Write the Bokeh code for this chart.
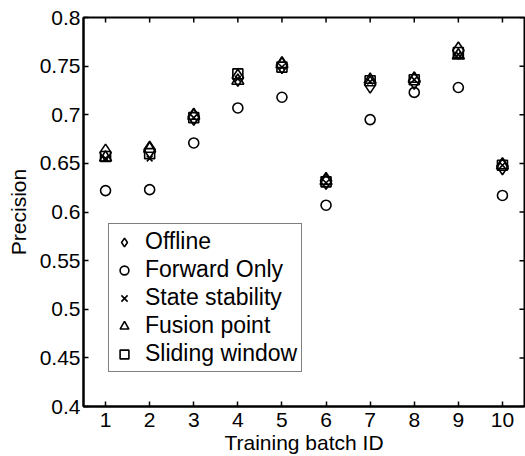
import math
from bokeh.plotting import figure
from bokeh.models import Range1d, FixedTicker, Legend, LegendItem
from bokeh.embed import file_html
from bokeh.resources import INLINE

batches = [1, 2, 3, 4, 5, 6, 7, 8, 9, 10]
offline = [0.661, 0.664, 0.698, 0.738, 0.751, 0.632, 0.731, 0.735, 0.766, 0.647]
forward_only = [0.622, 0.623, 0.671, 0.707, 0.718, 0.607, 0.695, 0.723, 0.728, 0.617]
state_stability = [0.655, 0.655, 0.697, 0.737, 0.749, 0.630, 0.734, 0.736, 0.762, 0.648]
fusion_point = [0.656, 0.665, 0.699, 0.735, 0.752, 0.632, 0.736, 0.737, 0.761, 0.648]
sliding_window = [0.657, 0.660, 0.697, 0.742, 0.749, 0.631, 0.735, 0.736, 0.764, 0.648]

y_ticks = [0.4, 0.45, 0.5, 0.55, 0.6, 0.65, 0.7, 0.75, 0.8]
y_tick_labels = ["0.4", "0.45", "0.5", "0.55", "0.6", "0.65", "0.7", "0.75", "0.8"]
x_tick_labels = [str(b) for b in batches]
x_lo, x_hi = 0.5, 10.5
y_lo, y_hi = 0.4, 0.8

FONT = "Liberation Sans"
FS = "21px"

p = figure(width=525, height=456, output_backend="svg", toolbar_location=None,
           x_range=Range1d(x_lo, x_hi), y_range=Range1d(y_lo, y_hi),
           min_border_left=83, min_border_right=1, min_border_top=17, min_border_bottom=48)
p.grid.visible = False
p.outline_line_color = "black"
p.outline_line_width = 2
p.background_fill_color = "white"
p.border_fill_color = "white"

for ax in (p.xaxis[0], p.yaxis[0]):
    ax.axis_line_color = "black"
    ax.axis_line_width = 2
    ax.major_tick_in = 5
    ax.major_tick_out = 0
    ax.major_tick_line_color = "black"
    ax.major_tick_line_width = 1.5
    ax.minor_tick_line_color = None
    ax.major_label_text_font = FONT
    ax.major_label_text_font_size = FS
    ax.major_label_text_color = "black"
    ax.axis_label_text_font = FONT
    ax.axis_label_text_font_size = FS
    ax.axis_label_text_font_style = "normal"
    ax.axis_label_text_color = "black"

p.xaxis.ticker = FixedTicker(ticks=batches)
p.xaxis.major_label_overrides = {b: l for b, l in zip(batches, x_tick_labels)}
p.yaxis.ticker = FixedTicker(ticks=y_ticks)
p.yaxis.major_label_overrides = {t: l for t, l in zip(y_ticks, y_tick_labels)}
p.xaxis.axis_label = "Training batch ID"
p.yaxis.axis_label = "Precision"
p.xaxis.major_label_standoff = 6
p.xaxis.axis_label_standoff = 1
p.yaxis.major_label_standoff = 3
p.yaxis.axis_label_standoff = 7

# inward ticks on the top and right edges of the box (clipped to the frame)
p.scatter(batches, [y_hi] * len(batches), marker="dash", angle=math.pi / 2, size=10,
          line_color="black", line_width=1.5)
p.scatter([x_hi] * len(y_ticks), y_ticks, marker="dash", size=10,
          line_color="black", line_width=1.5)

lw = 1.6
r1 = p.scatter(batches, offline, marker="diamond", size=17, fill_color=None, line_color="black", line_width=lw)
r2 = p.scatter(batches, forward_only, marker="circle", size=10, fill_color=None, line_color="black", line_width=lw)
r3 = p.scatter(batches, state_stability, marker="x", size=8, line_color="black", line_width=lw)
r4 = p.scatter(batches, fusion_point, marker="triangle", size=12, fill_color=None, line_color="black", line_width=lw)
r5 = p.scatter(batches, sliding_window, marker="square", size=10, fill_color=None, line_color="black", line_width=lw)

legend = Legend(items=[
    LegendItem(label="Offline", renderers=[r1]),
    LegendItem(label="Forward Only", renderers=[r2]),
    LegendItem(label="State stability", renderers=[r3]),
    LegendItem(label="Fusion point", renderers=[r4]),
    LegendItem(label="Sliding window", renderers=[r5]),
], location=(25, 34))
legend.label_text_font = FONT
legend.label_text_font_size = "23px"
legend.label_text_color = "black"
legend.border_line_color = "black"
legend.border_line_width = 1.5
legend.background_fill_alpha = 1
legend.padding = 4
legend.spacing = 1
legend.label_height = 24
legend.glyph_height = 22
legend.glyph_width = 22
legend.label_standoff = 10
legend.margin = 0
p.add_layout(legend, "center")

open("out.html", "w").write(file_html(p, INLINE))
